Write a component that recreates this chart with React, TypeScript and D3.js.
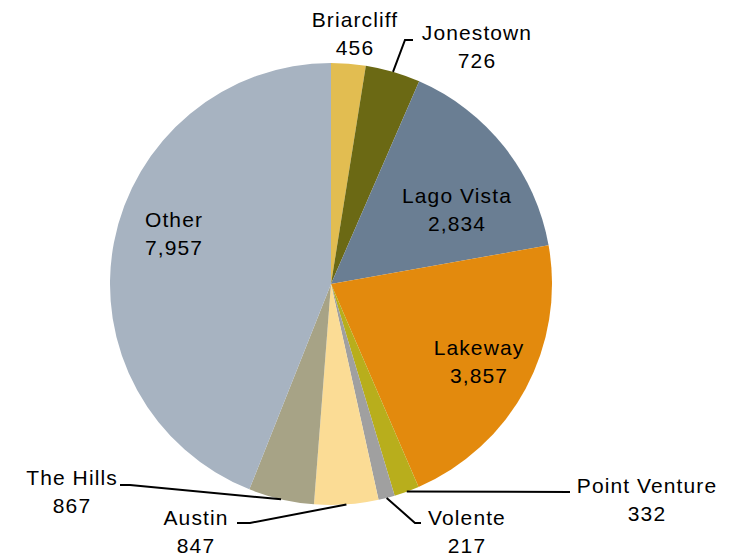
import React from "react";
import * as d3 from "d3";

const categories = ["Briarcliff", "Jonestown", "Lago Vista", "Lakeway", "Point Venture", "Volente", "Austin", "The Hills", "Other"];
const values = [456, 726, 2834, 3857, 332, 217, 847, 867, 7957];
const colors = ["#E2BD51", "#6B6914", "#6A7E93", "#E38A0D", "#B8AE1C", "#A0A0A0", "#FBDC95", "#A7A386", "#A7B3C1"];

// label layout: [centerX, firstBaseline], and optional leader elbow/end points
const labelPos: [number, number][] = [
  [355, 27], [477, 40], [457, 203], [479, 355], [647, 493], [467, 525], [196, 525], [72, 485], [174, 227],
];
const leaders: ([number, number][] | null)[] = [
  null,
  [[405, 40], [413, 40]],
  null,
  null,
  [[570, 492]],
  [[415, 523], [421, 523]],
  [[250, 523], [237, 523]],
  [[130, 485], [120, 485]],
  null,
];

const W = 742, H = 558;
const cx = 331, cy = 284, R = 221;

export default function App() {
  const pie = d3.pie<number>().sort(null).value((d) => d)(values);
  const arc = d3.arc<d3.PieArcDatum<number>>().innerRadius(0).outerRadius(R);
  const edge = d3.arc<d3.PieArcDatum<number>>().innerRadius(R).outerRadius(R);
  const fmt = d3.format(",");
  return (
    <svg width={W} height={H} style={{ position: "absolute", left: 0, top: 0, background: "#fff" }}>
      <g transform={`translate(${cx},${cy})`}>
        {pie.map((p, i) => (
          <path key={i} d={arc(p) || ""} fill={colors[i]} />
        ))}
      </g>
      {pie.map((p, i) => {
        const pts = leaders[i];
        if (!pts) return null;
        const [ax, ay] = edge.centroid(p);
        const all: [number, number][] = [[cx + ax, cy + ay], ...pts];
        return <path key={"l" + i} d={d3.line()(all) || ""} fill="none" stroke="#000" strokeWidth={2} />;
      })}
      {categories.map((c, i) => (
        <text key={"t" + i} x={labelPos[i][0]} y={labelPos[i][1]} textAnchor="middle"
          fontFamily="'Liberation Sans', Arial, sans-serif" fontSize={21} letterSpacing={1.1} fill="#000">
          <tspan x={labelPos[i][0]}>{c}</tspan>
          <tspan x={labelPos[i][0]} dy={28}>{fmt(values[i])}</tspan>
        </text>
      ))}
    </svg>
  );
}
